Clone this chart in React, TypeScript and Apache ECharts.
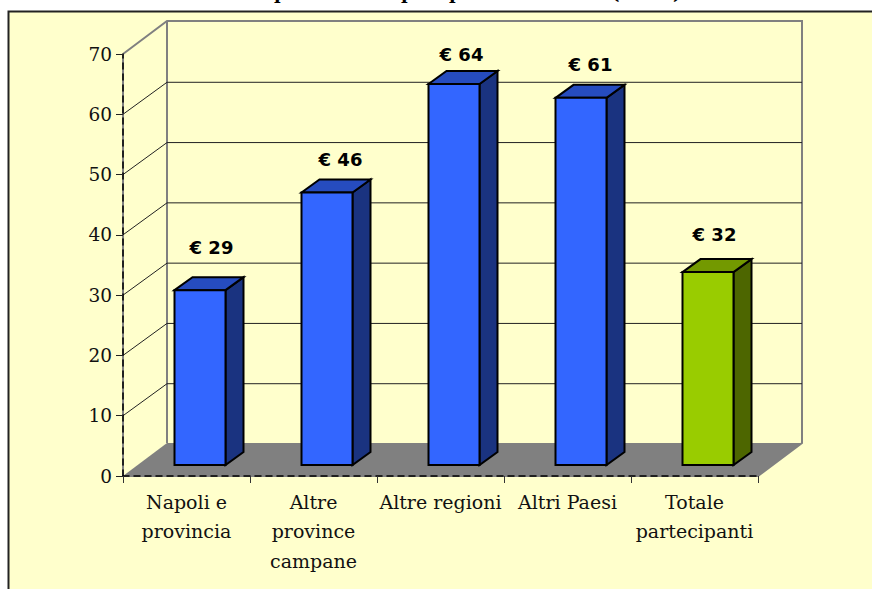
import React, { useEffect, useRef } from "react";
import * as echarts from "echarts";

const categories = ["Napoli e\nprovincia", "Altre\nprovince\ncampane", "Altre regioni", "Altri Paesi", "Totale\npartecipanti"];
const barValues = [29, 45.2, 63.2, 60.9, 32];
const barLabels = ["€ 29", "€ 46", "€ 64", "€ 61", "€ 32"];
const yTicks = [0, 10, 20, 30, 40, 50, 60, 70];
const titleFragments = ["p", "p", "p", "(", ")"];

const labelShiftX = [25, 27, 21, 23, 20];
const labelLift = [43, 33, 29, 33, 38];
const titleFragmentX = [274, 401, 449, 611, 673];
const faces = [
  { front: "#3366FF", top: "#264CBF", side: "#1A3380" },
  { front: "#3366FF", top: "#264CBF", side: "#1A3380" },
  { front: "#3366FF", top: "#264CBF", side: "#1A3380" },
  { front: "#3366FF", top: "#264CBF", side: "#1A3380" },
  { front: "#99CC00", top: "#739900", side: "#4D6600" },
];

const DX = 44;
const DY = -33;
const SERIF = '"DejaVu Serif"';

export default function App() {
  const ref = useRef<HTMLDivElement>(null);
  useEffect(() => {
    document.body.style.margin = "0";
    const chart = echarts.init(ref.current!, null, { renderer: "svg" });
    chart.setOption({
      animation: false,
      backgroundColor: "#FFFFFF",
      graphic: [
        {
          type: "rect", z: -10,
          shape: { x: 8.5, y: 11.5, width: 900, height: 620 },
          style: { fill: "#FFFFCC", stroke: "#222222", lineWidth: 2 },
        },
        ...titleFragments.map((t, i) => ({
          type: "text", z: 1, x: titleFragmentX[i], y: -17,
          style: { text: t, font: `bold 18px ${SERIF}`, fill: "#000" },
        })),
      ],
      grid: { left: 123, right: 114, top: 54, bottom: 113, containLabel: false },
      xAxis: {
        type: "category",
        data: categories,
        boundaryGap: true,
        axisLine: { show: true, lineStyle: { color: "#000", width: 1.5, type: [6, 5] } },
        axisTick: { show: true, length: 7, alignWithLabel: false, lineStyle: { color: "#333", width: 1 } },
        axisLabel: {
          interval: 0, margin: 11, color: "#111",
          fontFamily: SERIF, fontSize: 19, lineHeight: 29.5, verticalAlign: "top",
        },
        z: 3,
      },
      yAxis: {
        type: "value", min: 0, max: 70, interval: 10,
        axisLine: { show: true, lineStyle: { color: "#000", width: 1.5, type: [6, 5] } },
        axisTick: { show: true, length: 7, lineStyle: { color: "#222", width: 1 } },
        axisLabel: { margin: 11, color: "#111", fontFamily: SERIF, fontSize: 18.5 },
        splitLine: { show: false },
        z: 3,
      },
      series: [
        {
          type: "custom", z: 1, silent: true, clip: false,
          coordinateSystem: "cartesian2d",
          data: [[0, 0]],
          renderItem: (_p: any, api: any) => {
            const o = api.coord([0, 0]);
            const t = api.coord([0, 70]);
            const left = o[0] - 63.5;
            const right = left + 635;
            const wall = { stroke: "#808080", lineWidth: 2 };
            return {
              type: "group",
              children: [
                {
                  type: "polygon",
                  shape: { points: [[left, o[1]], [left + DX, o[1] + DY], [right + DX, o[1] + DY], [right, o[1]]] },
                  style: { fill: "#808080", stroke: "none" },
                },
                {
                  type: "polyline",
                  shape: { points: [[left, t[1]], [left + DX, t[1] + DY], [right + DX, t[1] + DY], [right + DX, o[1] + DY], [right, o[1]]] },
                  style: { fill: "none", ...wall },
                },
                {
                  type: "line",
                  shape: { x1: left + DX, y1: t[1] + DY, x2: left + DX, y2: o[1] + DY },
                  style: wall,
                },
                {
                  type: "line",
                  shape: { x1: left, y1: t[1], x2: left, y2: o[1] },
                  style: wall,
                },
                {
                  type: "line",
                  shape: { x1: left, y1: o[1], x2: right, y2: o[1] },
                  style: wall,
                },
              ],
            };
          },
        },
        {
          type: "custom", z: 2, silent: true, clip: false,
          coordinateSystem: "cartesian2d",
          data: yTicks.filter((v) => v > 0 && v < 70).map((v) => [0, v]),
          renderItem: (_p: any, api: any) => {
            const p = api.coord([0, api.value(1)]);
            const left = p[0] - 63.5;
            const right = left + 635;
            return {
              type: "polyline",
              shape: { points: [[left, p[1]], [left + DX, p[1] + DY + 1], [right + DX, p[1] + DY + 1]] },
              style: { fill: "none", stroke: "#222222", lineWidth: 1 },
            };
          },
        },
        {
          type: "custom", z: 4, silent: true, clip: false,
          coordinateSystem: "cartesian2d",
          data: barValues.map((v, i) => [i, v]),
          renderItem: (p: any, api: any) => {
            const i = p.dataIndex;
            const top = api.coord([api.value(0), api.value(1)]);
            const base = api.coord([api.value(0), 0]);
            const w = 51;
            const x0 = top[0] - w / 2 + 13.5;
            const x1 = x0 + w;
            const y0 = top[1] - 11;
            const y1 = base[1] - 11;
            const sx = 18;
            const sy = -13;
            const edge = { stroke: "#000", lineWidth: 2, lineJoin: "miter" };
            const c = faces[i];
            return {
              type: "group",
              children: [
                {
                  type: "polygon",
                  shape: { points: [[x1, y0], [x1 + sx, y0 + sy], [x1 + sx, y1 + sy], [x1, y1]] },
                  style: { fill: c.side, ...edge },
                },
                {
                  type: "polygon",
                  shape: { points: [[x0, y0], [x0 + sx, y0 + sy], [x1 + sx, y0 + sy], [x1, y0]] },
                  style: { fill: c.top, ...edge },
                },
                {
                  type: "rect",
                  shape: { x: x0, y: y0, width: w, height: y1 - y0 },
                  style: { fill: c.front, ...edge },
                },
                {
                  type: "text",
                  x: top[0] + labelShiftX[i],
                  y: top[1] - 11 - labelLift[i],
                  style: {
                    text: barLabels[i],
                    fill: "#000",
                    font: 'bold 18px "DejaVu Sans"',
                    textAlign: "center",
                    textVerticalAlign: "middle",
                    align: "center",
                    verticalAlign: "middle",
                  },
                },
              ],
            };
          },
        },
      ],
    });
    return () => chart.dispose();
  }, []);
  return <div ref={ref} style={{ width: 872, height: 589 }} />;
}
